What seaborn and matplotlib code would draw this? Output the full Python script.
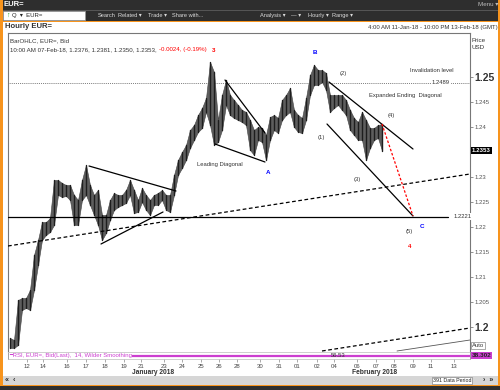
import matplotlib
matplotlib.use("Agg")

import numpy as np
import pandas as pd
import matplotlib.pyplot as plt
import seaborn as sns
from matplotlib.patches import Rectangle
from matplotlib.transforms import blended_transform_factory


BAR_HIGH = [
    1.1978, 1.1974, 1.2054, 1.2058, 1.2058, 1.2074, 1.2144, 1.2174, 1.2210, 1.2210,
    1.2218, 1.2294, 1.2294, 1.2288, 1.2284, 1.2284, 1.2264, 1.2254, 1.2294, 1.2324,
    1.2284, 1.2264, 1.2274, 1.2224, 1.2224, 1.2254, 1.2268, 1.2264, 1.2264, 1.2274,
    1.2294, 1.2274, 1.2254, 1.2278, 1.2264, 1.2254, 1.2264, 1.2268, 1.2274, 1.2264,
    1.2264, 1.2304, 1.2334, 1.2350, 1.2364, 1.2394, 1.2404, 1.2424, 1.2438, 1.2458,
    1.2530, 1.2510, 1.2414, 1.2464, 1.2494, 1.2464, 1.2454, 1.2444, 1.2434, 1.2430,
    1.2414, 1.2394, 1.2400, 1.2398, 1.2384, 1.2420, 1.2424, 1.2418, 1.2454, 1.2464,
    1.2478, 1.2434, 1.2424, 1.2418, 1.2458, 1.2504, 1.2524, 1.2514, 1.2514, 1.2508,
    1.2464, 1.2464, 1.2464, 1.2464, 1.2454, 1.2434, 1.2418, 1.2410, 1.2430, 1.2414,
    1.2398, 1.2398, 1.2404, 1.2406,
]
BAR_LOW = [
    1.1958, 1.1958, 1.1964, 1.2034, 1.2038, 1.2034, 1.2074, 1.2124, 1.2174, 1.2184,
    1.2190, 1.2204, 1.2264, 1.2260, 1.2262, 1.2254, 1.2204, 1.2204, 1.2254, 1.2264,
    1.2244, 1.2224, 1.2204, 1.2174, 1.2188, 1.2214, 1.2234, 1.2240, 1.2244, 1.2248,
    1.2264, 1.2228, 1.2230, 1.2250, 1.2234, 1.2224, 1.2244, 1.2244, 1.2254, 1.2234,
    1.2230, 1.2264, 1.2304, 1.2318, 1.2334, 1.2358, 1.2374, 1.2390, 1.2398, 1.2430,
    1.2404, 1.2364, 1.2370, 1.2394, 1.2444, 1.2424, 1.2418, 1.2414, 1.2410, 1.2404,
    1.2354, 1.2344, 1.2374, 1.2370, 1.2334, 1.2374, 1.2394, 1.2388, 1.2414, 1.2424,
    1.2430, 1.2400, 1.2390, 1.2388, 1.2414, 1.2464, 1.2484, 1.2484, 1.2490, 1.2474,
    1.2430, 1.2438, 1.2444, 1.2434, 1.2424, 1.2394, 1.2384, 1.2374, 1.2374, 1.2334,
    1.2358, 1.2374, 1.2378, 1.2353,
]
LAST_PRICE = 1.2353
SUPPORT = 1.2221
INVALIDATION = 1.2489

DATE_POS = [4.25, 8.25, 14.25, 19, 23.75, 28.5, 32.75, 38.5, 43, 47.75, 52.25, 56.75,
            62.5, 67.25, 71.75, 76.75, 81, 86.75, 91.5, 96, 100.75, 105.25, 111]
DATE_LABELS = ["12", "14", "16", "17", "18", "19", "21", "23", "24", "25", "26", "28",
               "30", "31", "01", "02", "04", "06", "07", "08", "09", "11", "13"]

PRICE_TICKS = [1.2, 1.205, 1.21, 1.215, 1.22, 1.225, 1.23, 1.24, 1.245, 1.25]

# trend lines: (name, x0, p0, x1, p1)
TREND_LINES = [
    ("long_dash", -0.5, 1.2162, 115, 1.2306),
    ("low_dash", 78, 1.1952, 115, 1.1998),
    ("tri_top", 19.75, 1.2322, 41.5, 1.2272),
    ("tri_bot", 22.75, 1.2166, 38.25, 1.2230),
    ("ld_top", 53.75, 1.2494, 63.75, 1.2388),
    ("ld_bot", 51.25, 1.2366, 63.75, 1.2330),
    ("ed_top", 79.75, 1.2490, 100.75, 1.2356),
    ("ed_bot", 79.25, 1.2406, 100.75, 1.2222),
]
PROJECTION = (93, 1.2406, 100.75, 1.2222)

WAVE_LABELS = [
    ("3", 51, 1.2552, "red"),
    ("B", 76.25, 1.2550, "blue"),
    ("A", 64.5, 1.2310, "blue"),
    ("C", 103, 1.2202, "blue"),
    ("4", 100, 1.2162, "red"),
]
NOTES = [
    ("Leading Diagonal", 52.5, 1.2326),
    ("(2)", 83.25, 1.2508),
    ("(1)", 77.75, 1.2378),
    ("(3)", 86.75, 1.2296),
    ("(4)", 95.25, 1.2422),
    ("(5)", 99.75, 1.2192),
    ("Expanded Ending  Diagonal", 98.75, 1.2462),
    ("Invalidation level", 105.5, 1.2512),
]

ORANGE = "#f7941d"
DARK = "#2e2e2e"
MAGENTA = "#cc3fd0"


def fx(px):
    return px / 500


def fy(py):
    return 1 - py / 390


def main():
    sns.set_theme(style="white")
    plt.rcParams["font.family"] = ["Liberation Sans", "DejaVu Sans"]

    fig = plt.figure(figsize=(5, 3.9), dpi=100)
    fig.patch.set_facecolor("white")

    # window chrome
    fig.patches.append(Rectangle((0, fy(21)), 1, 21 / 390, transform=fig.transFigure,
                                 facecolor=DARK, edgecolor="none", zorder=0))
    fig.patches.append(Rectangle((0, fy(10.5)), 1, 1 / 390, transform=fig.transFigure,
                                 facecolor="#555555", edgecolor="none", zorder=1))
    fig.patches.append(Rectangle((0, fy(22)), 1, 1.5 / 390, transform=fig.transFigure,
                                 facecolor=ORANGE, edgecolor="none", zorder=1))
    fig.patches.append(Rectangle((0, 0), 2.5 / 500, 1, transform=fig.transFigure,
                                 facecolor=ORANGE, edgecolor="none", zorder=1))
    fig.patches.append(Rectangle((1 - 2.5 / 500, 0), 2.5 / 500, 1, transform=fig.transFigure,
                                 facecolor=ORANGE, edgecolor="none", zorder=1))
    fig.patches.append(Rectangle((0, 0), 1, 5 / 390, transform=fig.transFigure,
                                 facecolor=DARK, edgecolor="none", zorder=1))
    fig.patches.append(Rectangle((0, fy(386)), 1, 1.5 / 390, transform=fig.transFigure,
                                 facecolor=ORANGE, edgecolor="none", zorder=2))
    fig.patches.append(Rectangle((fx(2.5), fy(385)), fx(495), 9 / 390, transform=fig.transFigure,
                                 facecolor="#d6d6d6", edgecolor="none", zorder=1))
    fig.patches.append(Rectangle((fx(3), fy(20)), fx(82), 9 / 390, transform=fig.transFigure,
                                 facecolor="white", edgecolor="#999999", lw=0.5, zorder=2))

    fig.text(fx(4), fy(5), "EUR=", color="white", fontsize=5.5, fontweight="bold", va="center")
    fig.text(fx(478), fy(5), "Menu \u25be", color="#bbbbbb", fontsize=4.5, va="center")
    fig.text(fx(6), fy(15.5), "\u2191", color="#1a9a1a", fontsize=5, va="center", fontweight="bold", zorder=3)
    fig.text(fx(12), fy(15.5), "Q  \u25be  EUR=", color="#222222", fontsize=4.3, va="center", zorder=3)
    for label, px in [("Search", 98), ("Related \u25be", 118), ("Trade \u25be", 148),
                      ("Share with...", 172), ("Analysis \u25be", 260), ("\u2014 \u25be", 291),
                      ("Hourly \u25be", 308), ("Range \u25be", 332)]:
        fig.text(fx(px), fy(15.5), label, color="#dddddd", fontsize=4.1, va="center")

    fig.text(fx(5), fy(27), "Hourly EUR=", color="#333333", fontsize=5.5, fontweight="bold", va="center")
    fig.text(fx(498), fy(28), "4:00 AM 11-Jan-18 - 10:00 PM 13-Feb-18 (GMT)",
             color="#333333", fontsize=4.3, ha="right", va="center")
    fig.text(fx(472), fy(44), "Price\nUSD", color="#333333", fontsize=4.5, va="center", linespacing=1.5)

    # price panel
    ax = fig.add_axes([fx(8), fy(352), fx(462), 319 / 390])
    ax.set_facecolor("white")
    idx = np.arange(len(BAR_HIGH))
    bars = pd.DataFrame({
        "bar": np.repeat(idx, 2),
        "x": np.repeat(idx, 2),
        "price": np.ravel(np.column_stack([BAR_LOW, BAR_HIGH])),
    })
    ax.fill_between(idx, BAR_LOW, BAR_HIGH, color="#5e5e5e", lw=0.4, edgecolor="#444444", zorder=2)
    sns.lineplot(data=bars, x="x", y="price", units="bar", estimator=None,
                 color="#1e1e1e", lw=1.0, ax=ax, zorder=3)

    ax.axhline(SUPPORT, xmin=0, xmax=(109.5 + 0.5) / 115.5, color="black", lw=0.9, zorder=4)
    ax.axhline(INVALIDATION, color="#555555", lw=0.6, ls=(0, (1, 1.3)), zorder=1)

    lines = pd.DataFrame(
        [(name, x0, p0) for name, x0, p0, _, _ in TREND_LINES]
        + [(name, x1, p1) for name, _, _, x1, p1 in TREND_LINES],
        columns=["line", "x", "price"],
    )
    dashed = ["long_dash", "low_dash"]
    sns.lineplot(data=lines[~lines["line"].isin(dashed)], x="x", y="price", units="line",
                 estimator=None, color="black", lw=0.9, ax=ax, zorder=5)
    for name in dashed:
        seg = lines[lines["line"] == name]
        ax.plot(seg["x"], seg["price"], color="black", lw=0.9, ls=(0, (3, 2)), zorder=5)
    ax.plot([PROJECTION[0], PROJECTION[2]], [PROJECTION[1], PROJECTION[3]],
            color="red", lw=0.9, ls=(0, (2, 1.5)), zorder=5)
    ax.plot([96.75, 115], [1.1952, 1.1974], color="#555555", lw=0.6, zorder=5)

    for text, x, p, color in WAVE_LABELS:
        ax.text(x, p, text, color=color, fontsize=4.5, fontweight="bold",
                ha="center", va="center", zorder=6)
    for text, x, p in NOTES:
        ax.text(x, p, text, color="#333333", fontsize=4.2, ha="center", va="center", zorder=6)
    ax.text(107.75, INVALIDATION, "1.2489", color="#333333", fontsize=4.2, ha="center",
            va="center", zorder=6, bbox=dict(facecolor="white", edgecolor="none", pad=0.6))
    ax.text(111, SUPPORT, "1.2221", color="#333333", fontsize=4.2, ha="left",
            va="center", zorder=6, bbox=dict(facecolor="white", edgecolor="none", pad=0.6))

    ax.text(0.005, 0.985, "BarOHLC, EUR=, Bid", transform=ax.transAxes, fontsize=4.4,
            color="#333333", va="top")
    head = ax.text(0.005, 0.955, "10:00 AM 07-Feb-18, 1.2376, 1.2381, 1.2350, 1.2353, ",
                   transform=ax.transAxes, fontsize=4.4, color="#333333", va="top")
    fig.canvas.draw()
    bb = head.get_window_extent().transformed(ax.transAxes.inverted())
    ax.text(bb.x1, 0.955, "-0.0024, (-0.19%)", transform=ax.transAxes, fontsize=4.4,
            color="red", va="top")

    ax.set_xlim(-0.5, 115)
    ax.set_ylim(1.195, 1.2588)
    ax.set_xticks([])
    ax.yaxis.tick_right()
    ax.set_yticks(PRICE_TICKS)
    ax.set_yticklabels([f"{t:g}" for t in PRICE_TICKS])
    ax.tick_params(axis="y", right=True, length=2, width=0.5, color="#666666", pad=1.5,
                   labelsize=4.3, labelcolor="#555555")
    for lab in ax.get_yticklabels():
        if lab.get_text() in ("1.25", "1.2"):
            lab.set_fontsize(7.5)
            lab.set_fontweight("bold")
            lab.set_color("#333333")
    ax.set_xlabel("")
    ax.set_ylabel("")
    for side in ["left", "top", "right"]:
        ax.spines[side].set_color("#777777")
        ax.spines[side].set_linewidth(0.8)
    ax.spines["bottom"].set_color("#bbbbbb")
    ax.spines["bottom"].set_linewidth(0.5)

    trans = blended_transform_factory(ax.transAxes, ax.transData)
    ax.text(1.004, LAST_PRICE, "1.2353", transform=trans, color="white", fontsize=4.4,
            fontweight="bold", va="center", ha="left",
            bbox=dict(facecolor="black", edgecolor="none", pad=0.8))
    ax.text(1.004, 0.012, "Auto", transform=ax.transAxes, color="#333333", fontsize=4.2,
            va="bottom", ha="left", bbox=dict(facecolor="white", edgecolor="#888888", lw=0.5, pad=0.6))

    # RSI strip
    rax = fig.add_axes([fx(8), fy(359), fx(462), 7 / 390])
    rax.set_facecolor("white")
    rax.set_xlim(-0.5, 115)
    rax.set_ylim(0, 1)
    rax.axhline(0.5, xmin=0.25, xmax=1, color=MAGENTA, lw=1.6)
    rax.text(0.002, 0.5, "\u2501RSI, EUR=, Bid(Last),  14, Wilder Smoothing", transform=rax.transAxes,
             color=MAGENTA, fontsize=4.3, va="center",
             bbox=dict(facecolor="white", edgecolor="none", pad=0.2))
    rax.text(0.715, 0.5, "56.53", transform=rax.transAxes, color="#333333", fontsize=4.2,
             va="center", ha="center")
    rax.text(1.004, 0.5, "38.302", transform=rax.transAxes, color="#222222", fontsize=4.6,
             fontweight="bold", va="center", ha="left",
             bbox=dict(facecolor=MAGENTA, edgecolor="none", pad=0.6))
    rax.set_yticks([])
    rax.set_xticks(DATE_POS)
    rax.set_xticklabels(DATE_LABELS)
    rax.tick_params(axis="x", bottom=True, length=2, width=0.5, color="#888888", pad=1.5,
                    labelsize=4.3, labelcolor="#444444")
    for side in rax.spines.values():
        side.set_color("#bbbbbb")
        side.set_linewidth(0.5)
    rax.spines["right"].set_color("#777777")
    rax.spines["left"].set_color("#777777")

    fig.text(fx(153), fy(372.5), "January 2018", color="#333333", fontsize=4.8,
             fontweight="bold", ha="center", va="center")
    fig.text(fx(375), fy(372.5), "February 2018", color="#333333", fontsize=4.8,
             fontweight="bold", ha="center", va="center")

    # scroll bar
    fig.text(fx(5), fy(380.5), "\u00ab  \u2039", color="#222222", fontsize=5, va="center", fontweight="bold")
    fig.text(fx(452), fy(380.5), "391 Data Period", color="#222222", fontsize=3.8, va="center",
             ha="center", bbox=dict(facecolor="white", edgecolor="#888888", lw=0.5, pad=0.6))
    fig.text(fx(483), fy(380.5), "\u203a  \u00bb", color="#222222", fontsize=5, va="center", fontweight="bold")

    fig.savefig("out.png", dpi=100)
    plt.close(fig)


if __name__ == "__main__":
    main()
